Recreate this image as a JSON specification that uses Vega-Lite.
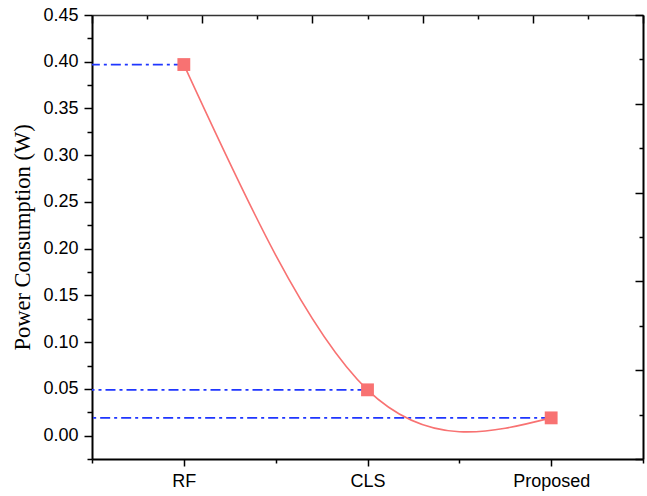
{
  "$schema": "https://vega.github.io/schema/vega-lite/v6.json",
  "width": 551,
  "height": 444,
  "autosize": "none",
  "padding": {"left": 92, "top": 15, "right": 4, "bottom": 37},
  "background": "white",
  "config": {
    "view": {"stroke": null},
    "axis": {
      "grid": false,
      "domainColor": "#000",
      "tickColor": "#000",
      "labelColor": "#000",
      "titleColor": "#000",
      "labelFont": "Liberation Sans",
      "labelFontSize": 18,
      "tickWidth": 1.5
    }
  },
  "data": {
    "values": [
      {"method": "RF", "idx": 1, "power": 0.397},
      {"method": "CLS", "idx": 2, "power": 0.049},
      {"method": "Proposed", "idx": 3, "power": 0.019}
    ]
  },
  "layer": [
    {
      "mark": {"type": "rule", "strokeDash": [10, 4, 3, 4], "color": "#1f36ff", "strokeWidth": 1.8},
      "encoding": {
        "x": {
          "field": "idx", "type": "quantitative",
          "scale": {"domain": [0.5, 3.5], "nice": false, "zero": false},
          "axis": {
            "orient": "bottom", "title": null,
            "values": [0.5, 1, 1.5, 2, 2.5, 3, 3.5],
            "labelExpr": "datum.value == 1 ? 'RF' : datum.value == 2 ? 'CLS' : datum.value == 3 ? 'Proposed' : ''",
            "tickSize": {"condition": {"test": "datum.value % 1 == 0", "value": 7}, "value": 4},
            "labelPadding": 6,
            "domainWidth": 2
          }
        },
        "x2": {"datum": 0.5},
        "y": {
          "field": "power", "type": "quantitative",
          "scale": {"domain": [-0.025, 0.45], "nice": false, "zero": false},
          "axis": {
            "orient": "left",
            "title": "Power Consumption (W)",
            "titleFont": "Liberation Serif",
            "titleFontSize": 22.5,
            "titleFontWeight": "normal",
            "titlePadding": 8,
            "values": [-0.025, 0, 0.025, 0.05, 0.075, 0.1, 0.125, 0.15, 0.175, 0.2, 0.225, 0.25, 0.275, 0.3, 0.325, 0.35, 0.375, 0.4, 0.425, 0.45],
            "labelExpr": "abs(datum.value*20 - round(datum.value*20)) < 0.001 ? format(datum.value, '.2f') : ''",
            "tickSize": {"condition": {"test": "abs(datum.value*20 - round(datum.value*20)) < 0.001", "value": 8}, "value": 5},
            "labelPadding": 6,
            "domainWidth": 2
          }
        }
      }
    },
    {
      "mark": {"type": "line", "interpolate": "natural", "color": "#f87272", "strokeWidth": 1.6},
      "encoding": {
        "x": {"field": "idx", "type": "quantitative", "axis": null},
        "y": {"field": "power", "type": "quantitative", "axis": null}
      }
    },
    {
      "mark": {"type": "square", "size": 165, "color": "#f87272", "opacity": 1},
      "encoding": {
        "x": {"field": "idx", "type": "quantitative", "axis": null},
        "y": {"field": "power", "type": "quantitative", "axis": null}
      }
    },
    {
      "mark": {"type": "point", "opacity": 0},
      "encoding": {
        "x": {
          "field": "idx", "type": "quantitative",
          "axis": {
            "orient": "top", "title": null, "labels": false,
            "values": [0.5, 0.8, 1.1, 1.4, 1.7, 2.0, 2.3, 2.6, 2.9, 3.2, 3.5],
            "tickSize": {"condition": {"test": "abs((datum.value-0.5)/0.6 - round((datum.value-0.5)/0.6)) < 0.01", "value": -8}, "value": -4},
            "domainWidth": 1.5,
            "domainColor": "#333"
          }
        },
        "y": {
          "field": "power", "type": "quantitative",
          "axis": {
            "orient": "right", "title": null, "labels": false,
            "values": [-0.025, 0.0225, 0.07, 0.1175, 0.165, 0.2125, 0.26, 0.3075, 0.355, 0.4025, 0.45],
            "tickSize": {"condition": {"test": "abs((datum.value+0.025)/0.095 - round((datum.value+0.025)/0.095)) < 0.01", "value": -8}, "value": -4},
            "domainWidth": 2
          }
        }
      }
    }
  ],
  "resolve": {"axis": {"x": "independent", "y": "independent"}}
}
